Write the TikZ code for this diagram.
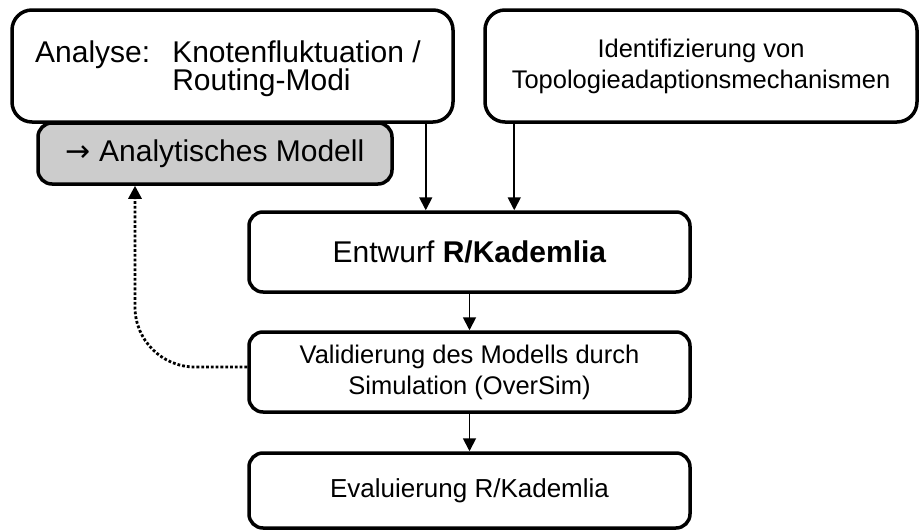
\documentclass[tikz,border=0pt]{standalone}
\usepackage{fontspec}
\setmainfont{Liberation Sans}
\newfontfamily\arrowfont{DejaVu Sans}
\usetikzlibrary{arrows.meta}
\begin{document}
\begin{tikzpicture}[x=1pt,y=-1pt,
  box/.style={draw=black, line width=3.5pt, rounded corners=14pt, fill=white, inner sep=0pt, align=center},
  bigbox/.style={box, rounded corners=20pt},
  arr/.style={line width=1.8pt, -{Triangle[width=13pt,length=13pt]}},
  dotarr/.style={line width=2.8pt, dash pattern=on 2.8pt off 2pt, rounded corners=60pt, -{Triangle[width=13pt,length=13pt]}},
  big/.style={font=\fontsize{30}{32}\selectfont},
  mid/.style={font=\fontsize{25.5}{31}\selectfont},
]
\useasboundingbox (0,0) rectangle (919,530);
\node[box, fill={rgb,255:red,204;green,204;blue,204}, minimum width=354pt, minimum height=61pt, big] (G) at (215,153.5) {{\arrowfont →} Analytisches Modell};
\node[bigbox, minimum width=441pt, minimum height=112pt, big] (A) at (232.5,66) {};
\node[big, anchor=center] (At) at (228,70)
  {\begin{tabular}{@{}l@{\hspace{22pt}}l@{}}Analyse: & Knotenfluktuation /\\[-4pt] & Routing-Modi\end{tabular}};
\node[bigbox, minimum width=432pt, minimum height=112pt, mid] (I) at (701,66) {Identifizierung von\\Topologieadaptionsmechanismen};
\node[box, minimum width=441pt, minimum height=80pt, big] (E) at (469.5,252) {Entwurf \textbf{R/Kademlia}};
\node[box, minimum width=441pt, minimum height=80pt, mid] (V) at (469.5,372) {Validierung des Modells durch\\Simulation (OverSim)};
\node[box, minimum width=441pt, minimum height=75pt, font=\fontsize{26}{31}\selectfont] (Ev) at (469.5,490.5) {Evaluierung R/Kademlia};
\draw[arr] ([xshift=-29pt]A.south east) -- ([xshift=-29pt]A.south east |- E.north);
\draw[arr] ([xshift=31pt]I.south west) -- ([xshift=31pt]I.south west |- E.north);
\draw[arr] (E.south) -- (V.north);
\draw[arr] (V.south) -- (Ev.north);
\coordinate (c) at (135,367);
\draw[dotarr] ([yshift=5pt]V.west) -- (c) -- (c |- G.south);
\end{tikzpicture}
\end{document}
